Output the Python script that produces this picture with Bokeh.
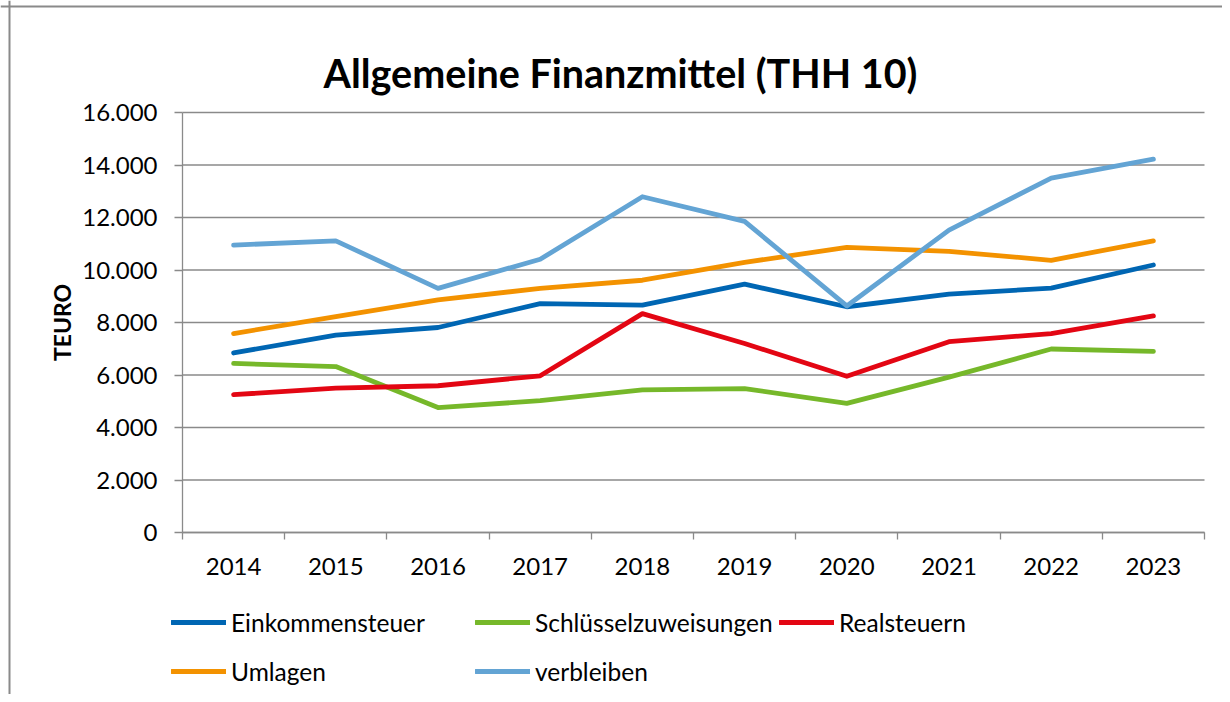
import math
from bokeh.plotting import figure
from bokeh.models import FixedTicker, Label, Legend, LegendItem, Span
from bokeh.embed import file_html
from bokeh.resources import INLINE

years = [2014, 2015, 2016, 2017, 2018, 2019, 2020, 2021, 2022, 2023]
einkommensteuer = [6840, 7520, 7810, 8720, 8660, 9460, 8600, 9080, 9310, 10190]
schluesselzuweisungen = [6440, 6320, 4760, 5020, 5430, 5480, 4920, 5920, 6990, 6900]
realsteuern = [5250, 5500, 5590, 5970, 8340, 7200, 5950, 7270, 7580, 8250]
umlagen = [7580, 8220, 8860, 9300, 9610, 10290, 10860, 10710, 10370, 11110]
verbleiben = [10950, 11110, 9300, 10410, 12790, 11850, 8630, 11520, 13500, 14220]

series_names = ["Einkommensteuer", "Schlüsselzuweisungen", "Realsteuern", "Umlagen", "verbleiben"]
series_colors = ["#0066B3", "#76B82A", "#E30613", "#F39200", "#63A4D4"]
y_ticks = [0, 2000, 4000, 6000, 8000, 10000, 12000, 14000, 16000]
y_tick_labels = ["0", "2.000", "4.000", "6.000", "8.000", "10.000", "12.000", "14.000", "16.000"]
title_text = "Allgemeine Finanzmittel (THH 10)"
y_title = "TEURO"

FONT = "Lato"
GRID = "#8A8A8A"

# canvas geometry (pixels) -- the frame covers the whole canvas, the plot area is inside it
W, H = 1222, 694
PL, PR, PT, PB = 182, 1204, 112, 532
x0, x1 = years[0] - 0.5, years[-1] + 0.5
y0, y1 = y_ticks[0], y_ticks[-1]
xpp = (x1 - x0) / (PR - PL)
ypp = (y1 - y0) / (PB - PT)
x_range = (x0 - PL * xpp, x1 + (W - PR) * xpp)
y_range = (y0 - (H - PB) * ypp, y1 + PT * ypp)

p = figure(width=W, height=H, output_backend="svg", toolbar_location=None,
           x_range=x_range, y_range=y_range)
p.min_border = 0
p.min_border_left = 0
p.min_border_right = 0
p.min_border_top = 0
p.min_border_bottom = 0
p.outline_line_color = None
p.background_fill_color = "white"
p.border_fill_color = "white"
p.xgrid.visible = False
p.ygrid.visible = False

# horizontal grid lines across the plot area
p.segment(x0=[x0] * len(y_ticks), x1=[x1] * len(y_ticks), y0=y_ticks, y1=y_ticks,
          line_color=GRID, line_width=1.3)

# y axis
p.yaxis.fixed_location = x0
p.yaxis.bounds = (y0, y1)
p.yaxis.ticker = FixedTicker(ticks=y_ticks)
p.yaxis.major_label_overrides = {t: l for t, l in zip(y_ticks, y_tick_labels)}
p.yaxis.axis_line_color = GRID
p.yaxis.axis_line_width = 1.3
p.yaxis.major_tick_line_color = GRID
p.yaxis.major_tick_line_width = 1.3
p.yaxis.major_tick_out = 8
p.yaxis.major_tick_in = 0
p.yaxis.minor_tick_line_color = None
p.yaxis.major_label_standoff = 17
p.yaxis.major_label_text_font = FONT
p.yaxis.major_label_text_font_size = "24px"
p.yaxis.major_label_text_color = "black"

# x axis: labels at category centres, tick marks at boundaries
boundaries = [y - 0.5 for y in years] + [years[-1] + 0.5]
p.xaxis.fixed_location = y0
p.xaxis.bounds = (x0, x1)
p.xaxis.ticker = FixedTicker(ticks=years, minor_ticks=boundaries)
p.xaxis.major_label_overrides = {y: str(y) for y in years}
p.xaxis.axis_line_color = GRID
p.xaxis.axis_line_width = 1.3
p.xaxis.major_tick_line_color = None
p.xaxis.major_tick_out = 0
p.xaxis.major_tick_in = 0
p.xaxis.minor_tick_line_color = GRID
p.xaxis.minor_tick_line_width = 1.3
p.xaxis.minor_tick_out = 7
p.xaxis.minor_tick_in = 0
p.xaxis.major_label_standoff = 18
p.xaxis.major_label_text_font = FONT
p.xaxis.major_label_text_font_size = "24px"
p.xaxis.major_label_text_color = "black"

# lines
all_series = [einkommensteuer, schluesselzuweisungen, realsteuern, umlagen, verbleiben]
items = []
for name, col, vals in zip(series_names, series_colors, all_series):
    r = p.line(years, vals, line_color=col, line_width=4.8, line_cap="round", line_join="round")
    items.append(LegendItem(label=name, renderers=[r]))

legend = Legend(items=items, ncols=3, location=(171, H - 693))
legend.orientation = "horizontal"
legend.glyph_width = 55
legend.glyph_height = 44
legend.label_height = 44
legend.label_width = 239
legend.label_standoff = 5
legend.spacing = 5
legend.padding = 0
legend.margin = 0
legend.border_line_color = None
legend.background_fill_alpha = 0
legend.label_text_font = FONT
legend.label_text_font_size = "24.5px"
legend.label_text_color = "black"
legend.label_text_baseline = "middle"
p.add_layout(legend, "center")

# title and y-axis title
p.add_layout(Label(x=620, y=H - 72, x_units="screen", y_units="screen", text=title_text,
                   text_font=FONT, text_font_size="39.5px", text_font_style="bold",
                   text_align="center", text_baseline="alphabetic", text_color="black"))
p.add_layout(Label(x=61, y=H - 322, x_units="screen", y_units="screen", text=y_title,
                   angle=math.pi / 2, text_font=FONT, text_font_size="23px",
                   text_font_style="bold", text_align="center", text_baseline="middle",
                   text_color="black"))

# chart border (left and top edges)
p.add_layout(Span(location=9, location_units="screen", dimension="height",
                  line_color=GRID, line_width=2))
p.add_layout(Span(location=H - 6, location_units="screen", dimension="width",
                  line_color=GRID, line_width=2))

open("out.html", "w").write(file_html(p, INLINE))
